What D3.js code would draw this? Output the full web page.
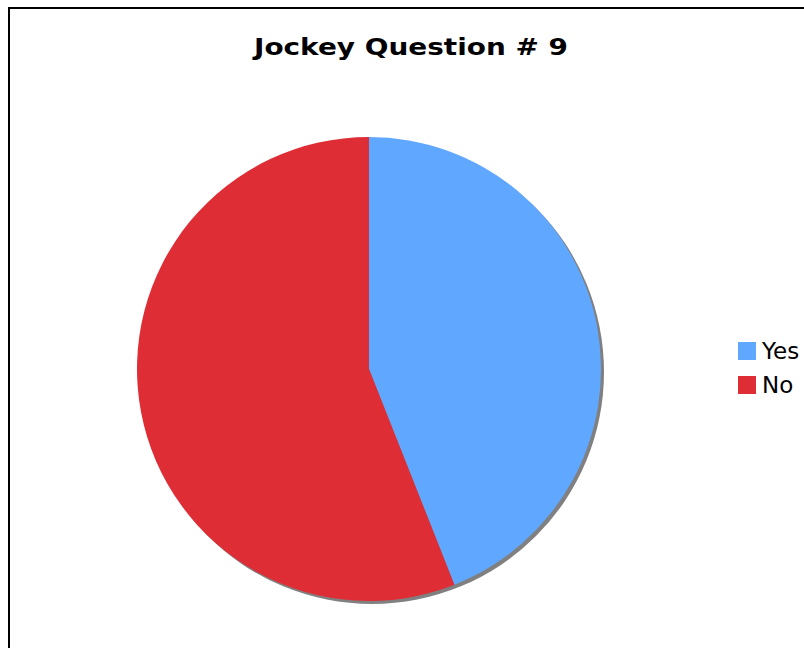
<!DOCTYPE html>
<html>
<head>
<meta charset="utf-8">
<script src="https://cdn.jsdelivr.net/npm/d3@7"></script>
<style>
  body { margin: 0; background: #fff; }
  svg { display: block; font-family: "DejaVu Sans", Verdana, sans-serif; }
</style>
</head>
<body>
<div id="chart"></div>
<script>
const categories = ["Yes", "No"];
const values = [11, 14];
const sliceColors = ["#60A8FF", "#DE2D35"];
const chartTitle = "Jockey Question # 9";

const width = 804;
const height = 648;
const cx = 369, cy = 369, radius = 232;

const svg = d3.select("#chart")
  .append("svg")
  .attr("width", width)
  .attr("height", height);

svg.append("rect")
  .attr("width", width)
  .attr("height", height)
  .attr("fill", "#fff");

// frame (only top/left edges visible in the crop)
svg.append("rect")
  .attr("x", 9)
  .attr("y", 8)
  .attr("width", width + 20)
  .attr("height", height + 20)
  .attr("fill", "none")
  .attr("stroke", "#000")
  .attr("stroke-width", 2);

svg.append("text")
  .attr("x", 411)
  .attr("y", 55)
  .attr("text-anchor", "middle")
  .attr("textLength", 314)
  .attr("lengthAdjust", "spacingAndGlyphs")
  .style("font-weight", "bold")
  .style("font-size", "23px")
  .text(chartTitle);

const color = d3.scaleOrdinal().domain(categories).range(sliceColors);

const pie = d3.pie().sort(null).value(d => d.value);
const data = categories.map((c, i) => ({ name: c, value: values[i] }));
const arcs = pie(data);
const arc = d3.arc().innerRadius(0).outerRadius(radius);

// drop shadow
svg.append("circle")
  .attr("cx", cx + 3)
  .attr("cy", cy + 3)
  .attr("r", radius)
  .attr("fill", "#808080");

const g = svg.append("g").attr("transform", `translate(${cx},${cy})`);
g.selectAll("path")
  .data(arcs)
  .enter()
  .append("path")
  .attr("d", arc)
  .attr("fill", d => color(d.data.name));

const legend = svg.append("g").attr("transform", "translate(738,342)");
categories.forEach((c, i) => {
  legend.append("rect")
    .attr("x", 0)
    .attr("y", i * 34)
    .attr("width", 18)
    .attr("height", 18)
    .attr("fill", color(c));
  legend.append("text")
    .attr("x", 24)
    .attr("y", i * 34 + 9)
    .attr("dy", "0.36em")
    .style("font-size", "23px")
    .text(c);
});
</script>
</body>
</html>
